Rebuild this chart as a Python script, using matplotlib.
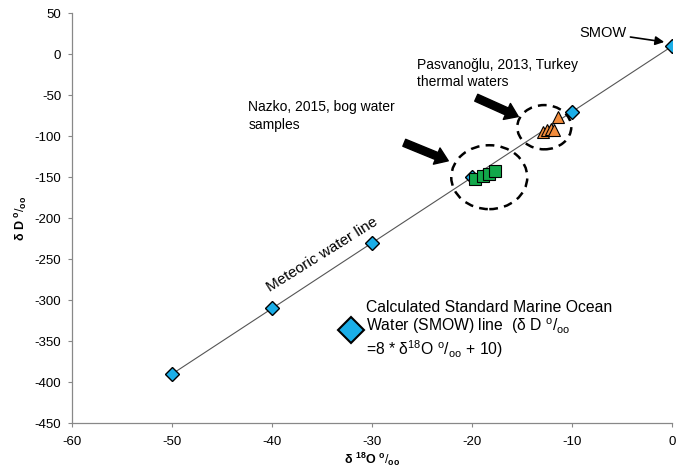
import numpy as np
import matplotlib as mpl; mpl.use("Agg")
import matplotlib.pyplot as plt
from matplotlib.patches import Ellipse
from matplotlib.lines import Line2D

plt.rcParams.update({"font.family": ["Liberation Sans", "DejaVu Sans"], "font.size": 9,
                     "axes.unicode_minus": False,
                     "mathtext.fontset": "custom", "mathtext.rm": "Liberation Sans",
                     "mathtext.bf": "Liberation Sans:bold", "mathtext.it": "Liberation Sans"})

# SMOW / meteoric water line: dD = 8 * d18O + 10
smow_x = [-50, -40, -30, -20, -10, 0]
smow_y = [-390, -310, -230, -150, -70, 10]
# Nazko 2015 bog water samples
nazko_x = [-19.7, -18.9, -18.3, -17.7]
nazko_y = [-152, -149, -146, -143]
# Pasvanoglu 2013 Turkey thermal waters
pasv_x = [-12.9, -12.5, -12.1, -11.8, -11.4]
pasv_y = [-95, -93, -91, -93, -77]

BLUE, GREEN, ORANGE = "#1AAEE8", "#12A84A", "#F28C3C"

fig = plt.figure(figsize=(6.88, 4.67), dpi=100)
ax = fig.add_axes([0.1051, 0.0942, 0.872, 0.8773])

ax.plot(smow_x, smow_y, color="#555555", lw=0.8, zorder=1)
ax.plot(pasv_x, pasv_y, ls="none", marker="^", ms=8, mfc=ORANGE, mec="black", mew=0.8, zorder=2)
ax.plot(smow_x, smow_y, ls="none", marker="D", ms=7, mfc=BLUE, mec="black", mew=1.0, zorder=3)
ax.plot(nazko_x, nazko_y, ls="none", marker="s", ms=8.5, mfc=GREEN, mec="black", mew=0.8, zorder=4)

# dashed circles round the two sample groups
for (cx, cy, w, h) in [(-18.3, -150, 7.6, 78), (-12.8, -89, 5.4, 54)]:
    ax.add_patch(Ellipse((cx, cy), w, h, fill=False, ec="black", lw=1.8,
                         ls=(0, (3.5, 2.5)), zorder=5))

# block arrows
big = dict(arrowstyle="simple,head_width=1.4,head_length=1.0,tail_width=0.6",
           fc="black", ec="black", shrinkA=0, shrinkB=0)
ax.annotate("", xy=(-15.4, -76), xytext=(-19.6, -53), arrowprops=big)
ax.annotate("", xy=(-22.4, -130), xytext=(-26.8, -108), arrowprops=big)
ax.annotate("SMOW", xy=(-0.8, 15), xytext=(-4.6, 26), fontsize=10.5, ha="right", va="center",
            arrowprops=dict(arrowstyle="-|>,head_width=0.25,head_length=0.5", color="black",
                            lw=1.2, shrinkA=1, shrinkB=0))

ax.text(-25.5, -23.5, "Pasvanoğlu, 2013, Turkey\nthermal waters", fontsize=10, ha="left",
        va="center", linespacing=1.35)
ax.text(-42.4, -75, "Nazko, 2015, bog water\nsamples", fontsize=10, ha="left",
        va="center", linespacing=1.35)
ax.text(-35.0, -245, "Meteoric water line", fontsize=11, ha="center", va="center",
        rotation=32, rotation_mode="anchor")

pm = r"$^{\mathregular{o}}/_{\mathregular{oo}}$"
leg_label = ("Calculated Standard Marine Ocean\nWater (SMOW) line  (δ D " + pm +
             "\n=8 * δ$^{\\mathregular{18}}$O " + pm + " + 10)")
h = Line2D([], [], ls="none", marker="D", ms=13, mfc=BLUE, mec="black", mew=1.5)
leg = ax.legend([h], [leg_label], loc="center left", bbox_to_anchor=(0.451, 0.228),
                frameon=False, fontsize=11.3, handlelength=1.0, handletextpad=0.5,
                borderaxespad=0, borderpad=0)
leg.get_texts()[0].set_linespacing(1.12)

ax.set_xlim(-60, 0)
ax.set_ylim(-450, 50)
ax.set_xticks(np.arange(-60, 1, 10))
ax.set_yticks(np.arange(-450, 51, 50))
for s in ["top", "right"]:
    ax.spines[s].set_visible(False)
for s in ["left", "bottom"]:
    ax.spines[s].set_color("#888888")
    ax.spines[s].set_linewidth(0.9)
ax.tick_params(direction="out", length=3, color="#888888", labelsize=9.5)
ax.tick_params(axis="x", pad=6)
ax.tick_params(axis="y", pad=5)
ax.set_xlabel(r"δ $^{\mathbf{18}}$O " + r"$^{\mathregular{o}}/_{\mathregular{oo}}$",
              fontweight="bold", fontsize=9, labelpad=2)
ax.set_ylabel(r"δ D " + r"$^{\mathregular{o}}/_{\mathregular{oo}}$", fontweight="bold",
              fontsize=9, labelpad=3)

fig.savefig("out.png", dpi=100)
